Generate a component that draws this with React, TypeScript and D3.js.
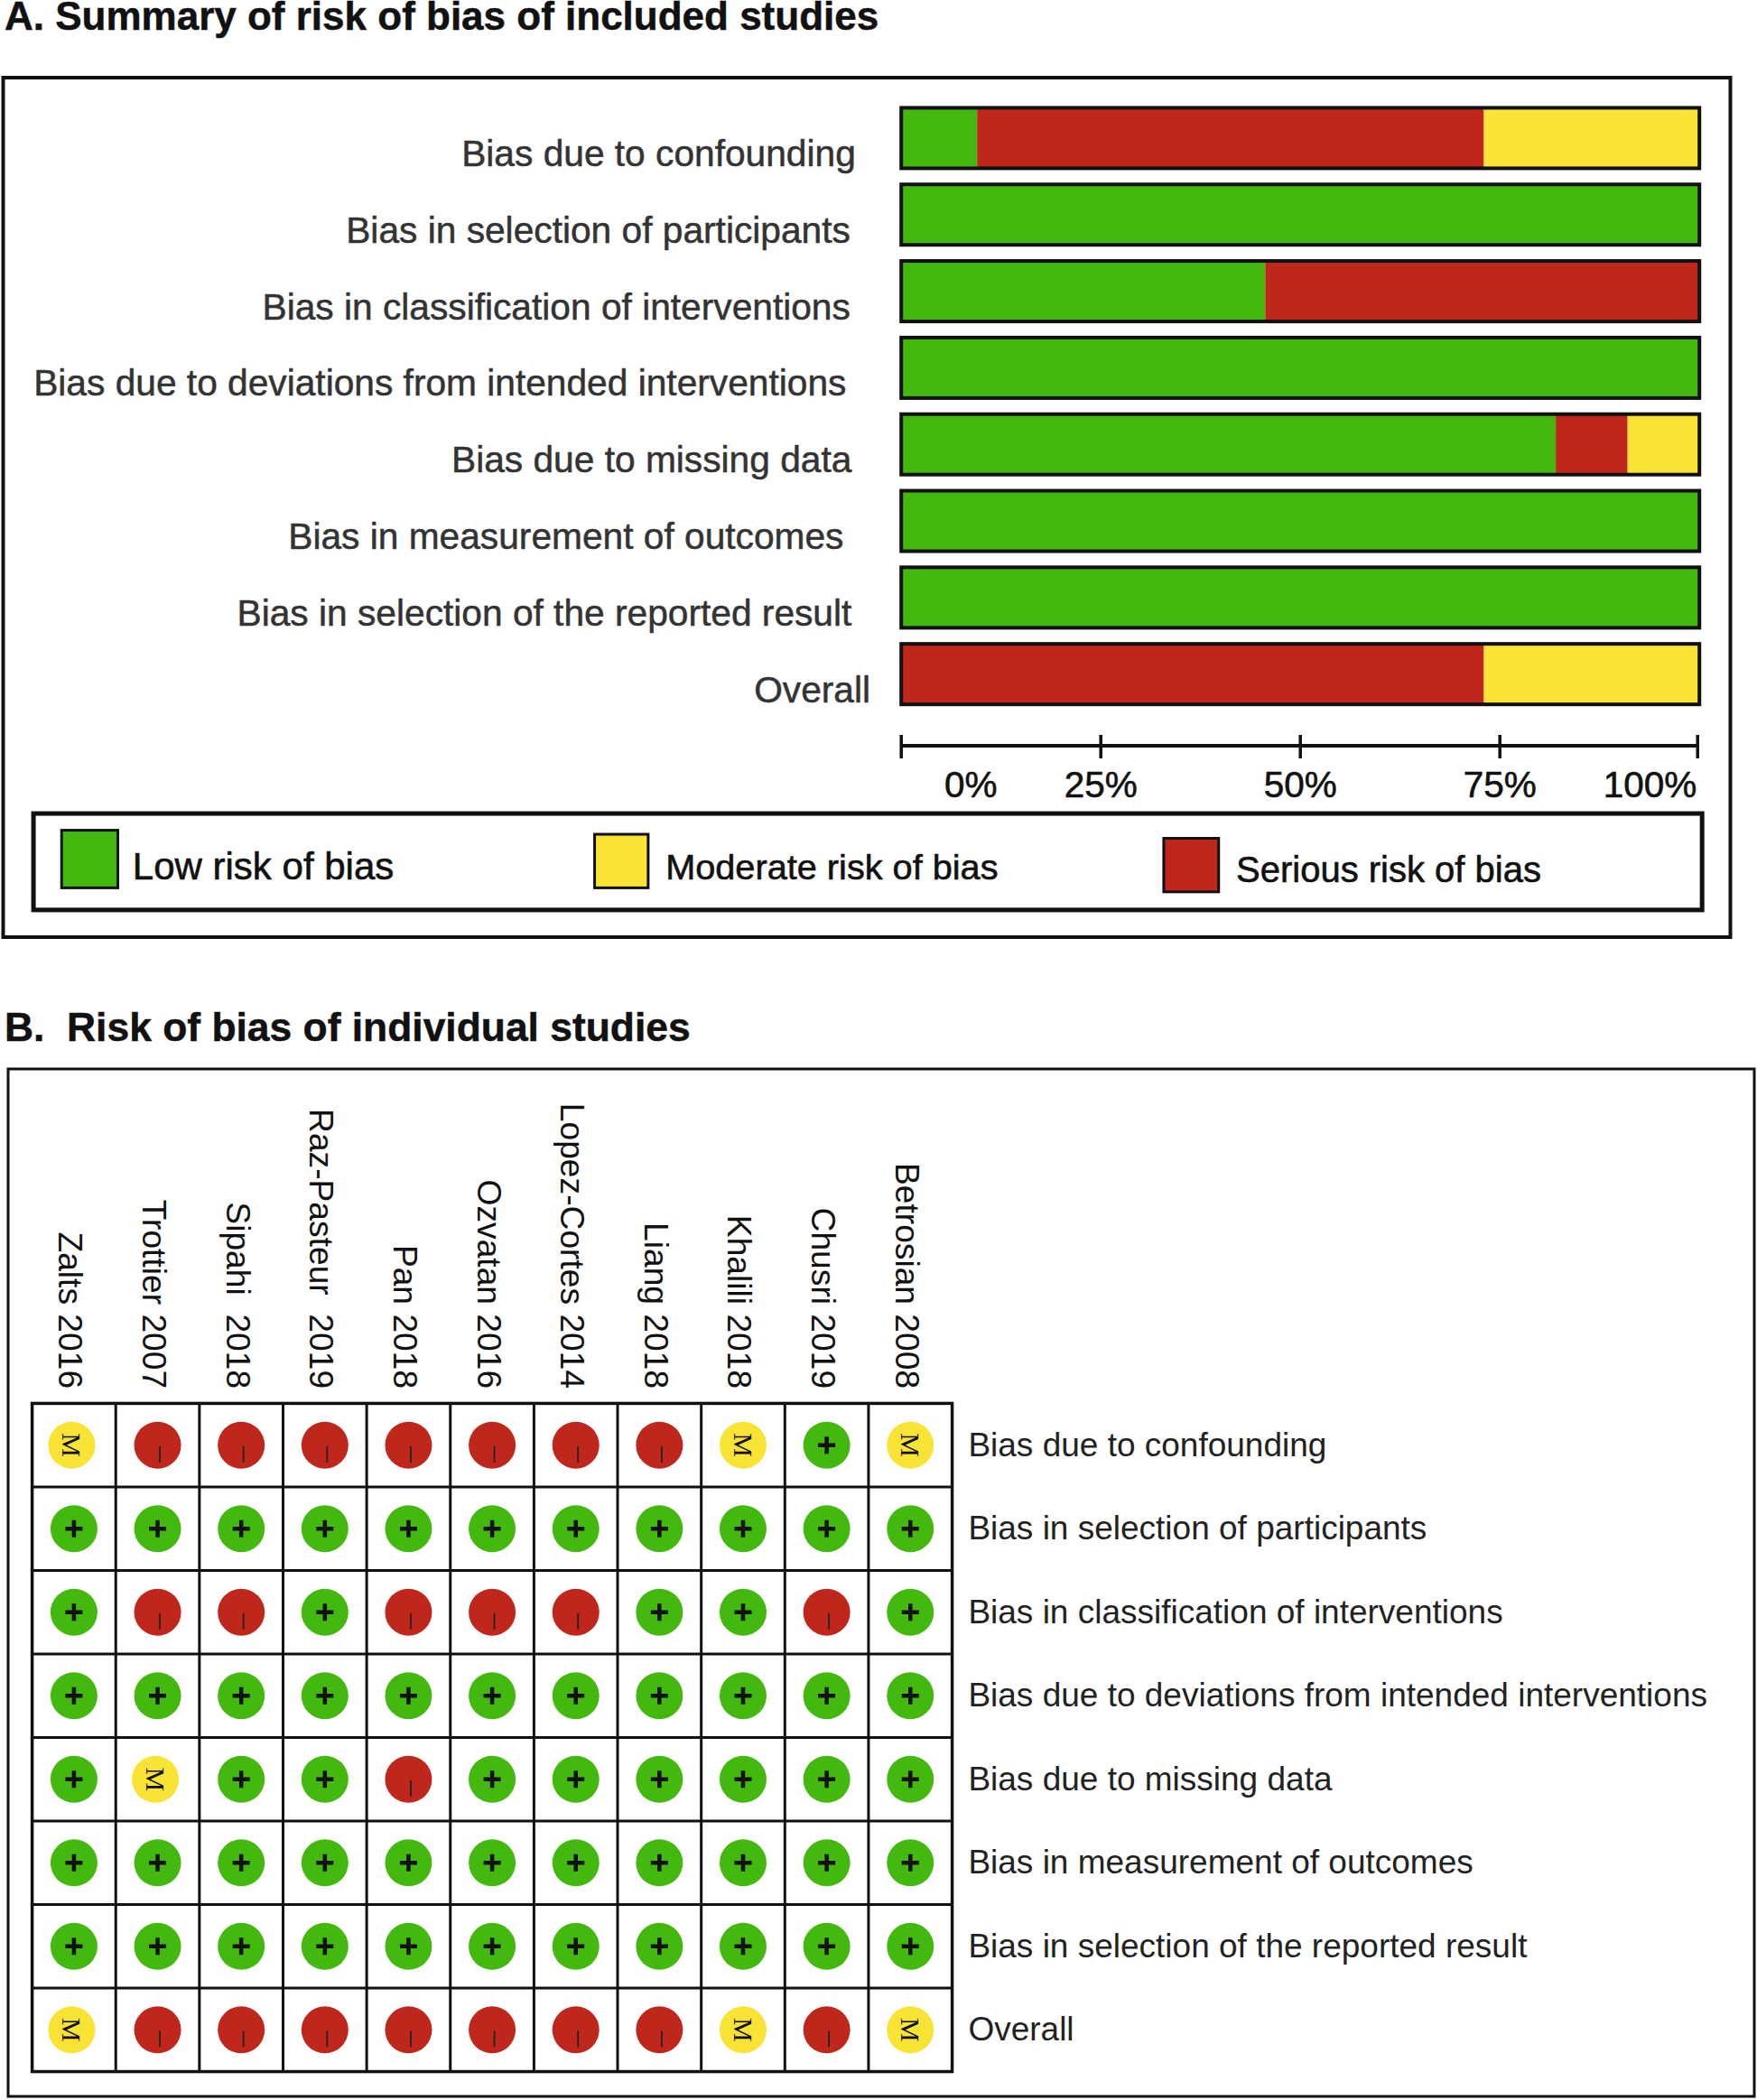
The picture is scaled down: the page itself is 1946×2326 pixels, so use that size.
import React from "react";
import * as d3 from "d3";

const domains = [
  "Bias due to confounding",
  "Bias in selection of participants",
  "Bias in classification of interventions",
  "Bias due to deviations from intended interventions",
  "Bias due to missing data",
  "Bias in measurement of outcomes",
  "Bias in selection of the reported result",
  "Overall",
];
const lowPct = [9.5, 100, 45.6, 100, 82, 100, 100, 0];
const seriousPct = [63.5, 0, 54.4, 0, 9, 0, 0, 73];
const moderatePct = [27, 0, 0, 0, 9, 0, 0, 27];
const axisTicks = [0, 25, 50, 75, 100];
const studies = [
  "Zalts 2016", "Trottier 2007", "Sipahi  2018", "Raz-Pasteur  2019", "Pan 2018", "Ozvatan 2016",
  "Lopez-Cortes 2014", "Liang 2018", "Khalili 2018", "Chusri 2019", "Betrosian 2008",
];
const judgements = [
  "M-------M+M",
  "+++++++++++",
  "+--+---++-+",
  "+++++++++++",
  "+M++-++++++",
  "+++++++++++",
  "+++++++++++",
  "M-------M-M",
];
const legendItems = [
  { label: "Low risk of bias", key: "low" },
  { label: "Moderate risk of bias", key: "moderate" },
  { label: "Serious risk of bias", key: "serious" },
];

const GREEN = "#43b80e";
const RED = "#bf271c";
const YELLOW = "#f9e334";
const FONT = "'Liberation Sans', Arial, sans-serif";
const S = 1946 / 1312;
const colorOf: Record<string, string> = { low: GREEN, moderate: YELLOW, serious: RED };

// layout only
const labelEnds = [639, 635, 635, 632, 636, 630, 636, 650].map((v) => v * S);
const legendLayout = [
  { sx: 46, sy: 620, sw: 42, sh: 43, tx: 99, ty: 657, fs: 42 },
  { sx: 444, sy: 623, sw: 40, sh: 40, tx: 497, ty: 657, fs: 39.7 },
  { sx: 869, sy: 626, sw: 41, sh: 40, tx: 923, ty: 659, fs: 40 },
];

export default function App() {
  const x = d3.scaleLinear().domain([0, 100]).range([673 * S, 1269 * S]);
  const rowA = d3.scaleBand<number>().domain(d3.range(domains.length)).range([74.5 * S, 532 * S]).paddingInner(0.21).paddingOuter(0.105);
  const col = d3.scaleBand<number>().domain(d3.range(studies.length)).range([24 * S, 711 * S]);
  const row = d3.scaleBand<number>().domain(d3.range(domains.length)).range([1048 * S, 1547 * S]);
  const r = 26;
  const stacks = d3.stack<number>().keys(["low", "serious", "moderate"]).value((i, k) =>
    k === "low" ? lowPct[i] : k === "serious" ? seriousPct[i] : moderatePct[i]
  )(d3.range(domains.length));

  return (
    <svg width={1946} height={2326} style={{ position: "absolute", left: 0, top: 0, background: "#fff" }} fontFamily={FONT}>
      <text x={5} y={33} fontSize={44} fontWeight="bold" fill="#111" stroke="#111" strokeWidth={0.5}>A. Summary of risk of bias of included studies</text>
      <rect x={3.5} y={86} width={1913} height={952} fill="none" stroke="#111" strokeWidth={4} />

      {domains.map((d, i) => (
        <text key={d} x={labelEnds[i]} y={rowA(i)! + rowA.bandwidth() / 2 + 31} textAnchor="end" fontSize={40.7} fill="#333" stroke="#333" strokeWidth={0.5}>{d}</text>
      ))}
      {stacks.map((s) =>
        s.map((v, i) =>
          v[1] > v[0] ? (
            <rect key={s.key + i} x={x(v[0])} y={rowA(i)!} width={x(v[1]) - x(v[0])} height={rowA.bandwidth()} fill={colorOf[s.key]} />
          ) : null
        )
      )}
      {domains.map((d, i) => (
        <rect key={d} x={x(0)} y={rowA(i)!} width={x(100) - x(0)} height={rowA.bandwidth()} fill="none" stroke="#111" strokeWidth={4} />
      ))}

      <line x1={x(0)} x2={x(100) - 2} y1={826} y2={826} stroke="#111" strokeWidth={4} />
      {axisTicks.map((t) => (
        <g key={t}>
          <line x1={x(t) - (t === 100 ? 2 : 0)} x2={x(t) - (t === 100 ? 2 : 0)} y1={814} y2={840} stroke="#111" strokeWidth={3.5} />
          <text
            x={t === 0 ? x(0) + 77 : t === 100 ? x(100) - 3 : x(t)}
            y={883}
            textAnchor={t === 100 ? "end" : "middle"}
            fontSize={40.5}
            fill="#111"
            stroke="#111"
            strokeWidth={0.6}
          >{t}%</text>
        </g>
      ))}

      <rect x={25 * S} y={607.5 * S} width={1246 * S} height={72 * S} fill="none" stroke="#111" strokeWidth={5} />
      {legendItems.map((l, i) => {
        const p = legendLayout[i];
        return (
          <g key={l.key}>
            <rect x={p.sx * S} y={p.sy * S} width={p.sw * S} height={p.sh * S} fill={colorOf[l.key]} stroke="#111" strokeWidth={3} />
            <text x={p.tx * S} y={p.ty * S} fontSize={p.fs} fill="#111" stroke="#111" strokeWidth={0.6}>{l.label}</text>
          </g>
        );
      })}

      <text x={5} y={1153} fontSize={44.4} fontWeight="bold" fill="#111" stroke="#111" strokeWidth={0.5} xmlSpace="preserve">B.  Risk of bias of individual studies</text>
      <rect x={9} y={1184} width={1934} height={1138} fill="none" stroke="#111" strokeWidth={3} />

      {studies.map((s, i) => (
        <text key={s} transform={`translate(${col(i)! + col.bandwidth() / 2 - 16.5},${1037 * S}) rotate(90)`} textAnchor="end" fontSize={37.2} fill="#111" xmlSpace="preserve">{s}</text>
      ))}
      <rect x={col.range()[0]} y={row.range()[0]} width={col.range()[1] - col.range()[0]} height={row.range()[1] - row.range()[0]} fill="none" stroke="#111" strokeWidth={3.5} />
      {studies.map((s, i) => i > 0 && (
        <line key={s} x1={col(i)!} x2={col(i)!} y1={row.range()[0]} y2={row.range()[1]} stroke="#111" strokeWidth={3} />
      ))}
      {domains.map((d, i) => i > 0 && (
        <line key={d} y1={row(i)!} y2={row(i)!} x1={col.range()[0]} x2={col.range()[1]} stroke="#111" strokeWidth={3} />
      ))}
      {judgements.map((rowVals, ri) =>
        rowVals.split("").map((j, ci) => {
          const cx = col(ci)! + col.bandwidth() / 2 - (j === "M" && ci < 2 ? 2.5 : 0);
          const cy = row(ri)! + row.bandwidth() / 2;
          const fill = j === "+" ? GREEN : j === "-" ? RED : YELLOW;
          return (
            <g key={`${ri}-${ci}`} transform={`translate(${cx},${cy})`}>
              <circle r={r} fill={fill} />
              {j === "+" && <path d="M-9.5,0H9.5M0,-9.5V9.5" stroke="#111" strokeWidth={4.5} fill="none" />}
              {j === "-" && <line x1={2.5} x2={2.5} y1={1} y2={19} stroke="#222" strokeWidth={1.8} />}
              {j === "M" && (
                <text transform="rotate(90)" textAnchor="middle" y={10} fontFamily="'Liberation Serif', serif" fontSize={30} fill="#111">M</text>
              )}
            </g>
          );
        })
      )}
      {domains.map((d, i) => (
        <text key={d} x={723 * S} y={row(i)! + row.bandwidth() / 2 + 12} fontSize={37} fill="#222">{d}</text>
      ))}
    </svg>
  );
}
